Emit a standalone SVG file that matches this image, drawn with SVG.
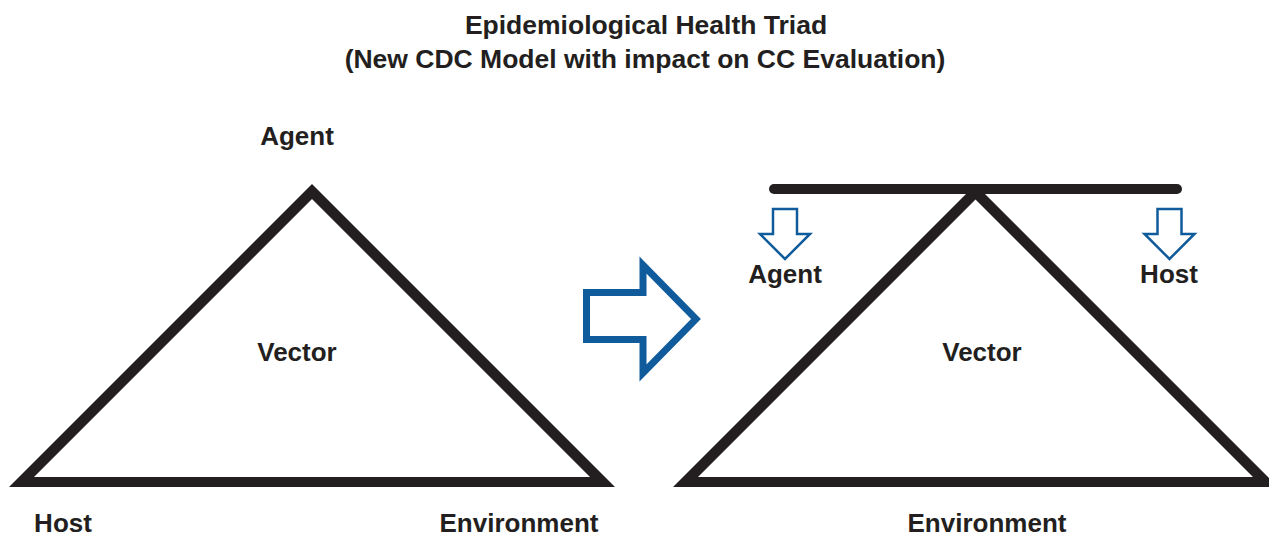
<svg xmlns="http://www.w3.org/2000/svg" width="1269" height="538" viewBox="0 0 1269 538">
<style>
.t{font-family:"Liberation Sans",Arial,sans-serif;font-weight:bold;font-size:26px;fill:#231f20;text-anchor:middle}
.h{font-size:26.5px}
.tri{fill:#231f20;fill-rule:evenodd}
.blue{fill:none;stroke:#0f5b9c;stroke-linejoin:miter;stroke-miterlimit:10}
</style>
<rect width="1269" height="538" fill="#ffffff"/>
<g id="title">
<text class="t h" x="646" y="34">Epidemiological Health Triad</text>
<text class="t h" x="645" y="68">(New CDC Model with impact on CC Evaluation)</text>
</g>
<g id="left-triad">
<path class="tri" d="M9,487 L312,184 L615,487 Z M34,477 L312,199 L590,477 Z"/>
<text class="t" x="297" y="145">Agent</text>
<text class="t" x="297" y="361">Vector</text>
<text class="t" x="63" y="532">Host</text>
<text class="t" x="519" y="532">Environment</text>
</g>
<g id="connectors">
<path class="blue" style="stroke-width:7" d="M586.5,292.5 L643,292.5 L643,265 L696,319 L643,373 L643,339.5 L586.5,339.5 Z"/>
</g>
<g id="right-triad">
<path class="tri" d="M673,487 L975.5,184.5 L1278,487 Z M698,477 L975.5,199.5 L1253,477 Z"/>
<line x1="774" y1="189" x2="1177" y2="189" stroke="#231f20" stroke-width="10" stroke-linecap="round"/>
<g id="agent-arrow">
<path class="blue" style="stroke-width:2.5" d="M773,209 L797,209 L797,234 L810,234 L785,259 L760,234 L773,234 Z"/>
<text class="t" x="785" y="283">Agent</text>
</g>
<g id="host-arrow">
<path class="blue" style="stroke-width:2.5" d="M1157.5,209 L1181.5,209 L1181.5,234 L1194.5,234 L1169.5,259 L1144.5,234 L1157.5,234 Z"/>
<text class="t" x="1169" y="283">Host</text>
</g>
<text class="t" x="982" y="361">Vector</text>
<text class="t" x="987" y="532">Environment</text>
</g>
</svg>
